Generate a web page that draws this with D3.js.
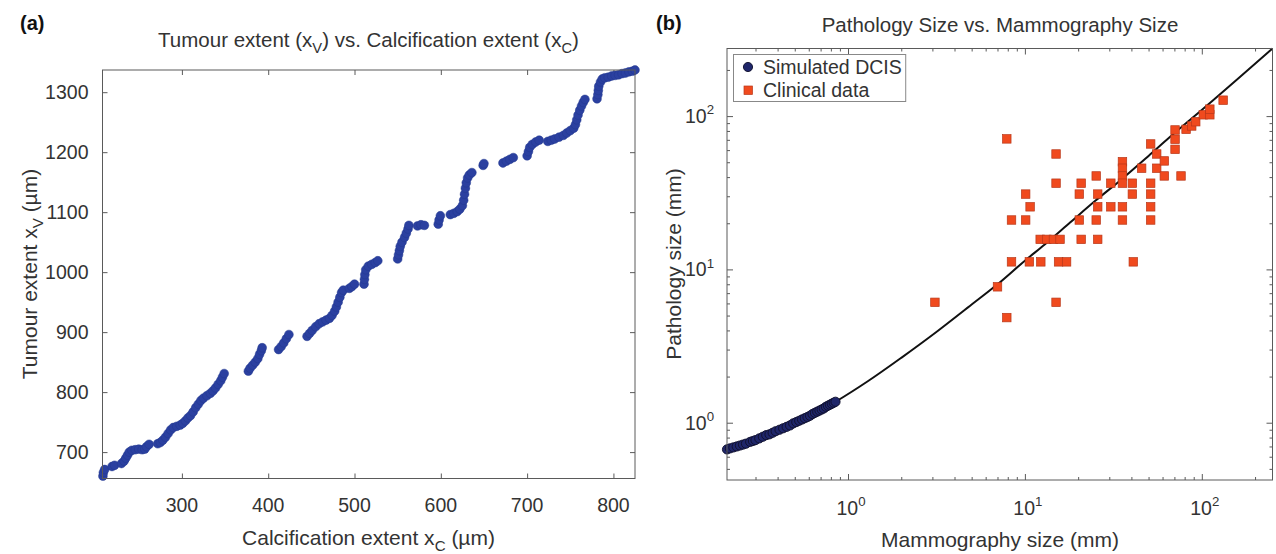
<!DOCTYPE html>
<html><head><meta charset="utf-8">
<script src="https://cdn.jsdelivr.net/npm/d3@7"></script>
<style>
body{margin:0;background:#fff}
svg{display:block}
text{font-family:"Liberation Sans",Arial,Helvetica,sans-serif}
</style>
</head><body>
<svg id="chart" width="1276" height="554"></svg>
<script>
// ---------- Panel (a) data ----------
const calcExtent = [208.5,209,210.5,219,222,230,233,235,237,239,242,246,250,254,257,259,262,
  272,275,278,281,284,287,290,294,298,301,304,307,310,313,316,319,322,325,329,333,336,339,342,345,347,349,
  377,379,382,385,388,390,392,393,
  412,415,418,421,424,
  445,448,451,455,459,463,467,471,474,477,479,481,483,485,487,
  494,497,500,
  511,511.5,512,513,516,520,524,527,
  550,551,552,553,555,558,560,562,563,
  573,577,581,
  597,598,599.5,
  611,615,619,622,625,626.5,627.5,628.5,629.5,631,633,636,
  649,650,
  672,676,680,684,
  700,701.5,703,706,710,714,
  724,728,732,737,742,746,750,754,756,757.5,759,761,763,765,767,
  781,782,782.5,783,785,787,790,794,798,802,806,810,814,818,822,825];
const tumourExtent = [660,666,671,676,678,681,685,690,695,700,703,704,705,704,705,709,713,
  714,716,720,725,731,737,741,743,745,748,752,757,761,767,774,780,786,790,794,798,802,807,813,819,825,831,
  835,840,845,850,856,863,869,874,
  871,876,882,889,896,
  893,898,903,909,914,917,920,923,928,935,942,950,958,966,970,
  973,976,980,
  980,988,996,1004,1010,1013,1016,1019,
  1022,1029,1036,1043,1050,1058,1065,1072,1078,
  1077,1079,1078,
  1080,1087,1094,
  1096,1098,1101,1105,1111,1120,1130,1140,1149,1157,1162,1166,
  1178,1181,
  1182,1185,1188,1191,
  1194,1201,1208,1213,1217,1220,
  1218,1220,1222,1225,1228,1232,1236,1240,1246,1254,1262,1270,1277,1283,1288,
  1289,1296,1303,1310,1317,1322,1324,1325,1327,1328,1329,1331,1332,1334,1335,1337];
const xTicksA = [300,400,500,600,700,800];
const yTicksA = [700,800,900,1000,1100,1200,1300];

// ---------- Panel (b) data ----------
const simMammo = [0.207,0.215,0.225,0.235,0.245,0.255,0.265,0.28,0.29,0.30,0.315,0.33,0.345,0.36,0.375,0.39,
  0.41,0.43,0.45,0.47,0.49,0.51,0.53,0.55,0.57,0.59,0.61,0.63,0.65,0.67,0.69,0.71,0.73,0.75,0.77,0.79,0.81,0.83,0.85];
const simPatho = [0.67,0.68,0.69,0.70,0.71,0.72,0.73,0.75,0.76,0.77,0.79,0.81,0.83,0.84,0.86,0.88,
  0.90,0.92,0.94,0.96,0.99,1.01,1.03,1.05,1.07,1.09,1.11,1.14,1.16,1.18,1.20,1.22,1.24,1.27,1.29,1.31,1.33,1.35,1.37];
const clinMammo = [7.9,15.0,15.0,10.1,10.7,8.4,10.1,12.2,13.3,14.5,15.8,8.4,10.6,12.3,15.5,17.2,7.0,3.1,15.0,7.9,
  20.8,20.3,25.3,25.8,25.8,20.3,25.3,20.8,25.8,30.6,30.6,35.6,35.6,35.6,35.6,40.5,40.5,35.6,35.6,41.0,
  45.7,51.4,51.4,51.4,51.4,51.4,55.6,55.6,61.4,61.4,70.6,70.6,70.6,76.3,81.5,87.7,92.4,102,111,111,132];
const clinPatho = [71,56.6,36.5,31.0,25.6,21.0,21.0,15.7,15.7,15.7,15.7,11.2,11.2,11.2,11.2,11.2,7.7,6.1,6.1,4.85,
  36.5,31.0,40.7,31.0,25.6,21.0,21.0,15.7,15.7,36.5,25.6,50.4,45.7,40.7,36.5,36.5,31.0,25.6,21.0,11.2,
  45.7,65.8,36.5,31.0,25.6,21.0,56.6,45.7,51.0,40.7,81.2,70.6,60.7,40.7,82,86.2,91.9,102,102,111,127];
const fitMammo = [0.207,0.3,0.5,0.85,1.3,2,3.2,5,7,10,13,18,25,35,50,66,90,115,160,251];
const fitPatho = [0.67,0.77,0.99,1.37,1.87,2.65,3.95,5.9,8.0,11.4,14.6,20.2,28,38.5,55,73,99,126,175,276];
const majorTicksB = [1,10,100];
const majorExpB = ["0","1","2"];

const svg = d3.select("#chart");
const AX = "#5a5a5a", TXT = "#333";
const FT = 19.5, FL = 21, FTI = 20.5;

// ================= Panel (a) =================
const xA = d3.scaleLinear().domain([208,825]).range([102.5,635]);
const yA = d3.scaleLinear().domain([656,1337]).range([478.5,70]);
const gA = svg.append("g");

function styleAxis(g){
  g.select(".domain").remove();
  g.selectAll(".tick line").attr("stroke",AX).attr("stroke-width",1);
  g.selectAll(".tick text").remove();
}
gA.append("g").attr("transform",`translate(0,${yA.range()[0]})`)
  .call(d3.axisBottom(xA).tickValues(xTicksA).tickSize(-5)).call(styleAxis);
gA.append("g").attr("transform",`translate(0,${yA.range()[1]})`)
  .call(d3.axisTop(xA).tickValues(xTicksA).tickSize(-5)).call(styleAxis);
gA.append("g").attr("transform",`translate(${xA.range()[0]},0)`)
  .call(d3.axisLeft(yA).tickValues(yTicksA).tickSize(-5)).call(styleAxis);
gA.append("g").attr("transform",`translate(${xA.range()[1]},0)`)
  .call(d3.axisRight(yA).tickValues(yTicksA).tickSize(-5)).call(styleAxis);

gA.selectAll("text.xt").data(xTicksA).enter().append("text")
  .attr("x",d=>xA(d)).attr("y",512).attr("text-anchor","middle")
  .attr("font-size",FT).attr("fill",TXT).text(d=>d);
gA.selectAll("text.yt").data(yTicksA).enter().append("text")
  .attr("x",88.5).attr("y",d=>yA(d)+7).attr("text-anchor","end")
  .attr("font-size",FT).attr("fill",TXT).text(d=>d);

gA.append("g").selectAll("circle").data(calcExtent).enter().append("circle")
  .attr("cx",d=>xA(d)).attr("cy",(d,i)=>yA(tumourExtent[i])).attr("r",4.4)
  .attr("fill","#2b40a0").attr("stroke","#23388f").attr("stroke-width",0.5);

gA.append("rect").attr("x",xA.range()[0]).attr("y",yA.range()[1])
  .attr("width",xA.range()[1]-xA.range()[0]).attr("height",yA.range()[0]-yA.range()[1])
  .attr("fill","none").attr("stroke",AX).attr("stroke-width",1);

function subText(parent, x, y, parts, size, anchor, rotate){
  const t = parent.append("text").attr("font-size",size).attr("fill",TXT)
    .attr("text-anchor",anchor||"middle");
  if(rotate){ t.attr("transform",`translate(${x},${y}) rotate(-90)`); }
  else { t.attr("x",x).attr("y",y); }
  parts.forEach(p=>{
    const s = t.append("tspan").text(p.t);
    if(p.sub){ s.attr("font-size",size*0.72).attr("dy",size*0.28); }
    if(p.back){ s.attr("dy",-size*0.28); }
    if(p.sup){ s.attr("font-size",size*0.68).attr("dy",-size*0.45); }
  });
  return t;
}
subText(gA, 368.5, 47, [{t:"Tumour extent (x"},{t:"V",sub:1},{t:") vs. Calcification extent (x",back:1},{t:"C",sub:1},{t:")",back:1}], FTI);
subText(gA, 368.5, 545, [{t:"Calcification extent x"},{t:"C",sub:1},{t:" (µm)",back:1}], FL);
subText(gA, 37, 274, [{t:"Tumour extent x"},{t:"V",sub:1},{t:" (µm)",back:1}], FL, "middle", true);
svg.append("text").attr("x",20).attr("y",30).attr("font-size",20).attr("font-weight","bold").attr("fill","#111").text("(a)");

// ================= Panel (b) =================
const xB = d3.scaleLog().domain([0.207,251]).range([727,1272.5]);
const yB = d3.scaleLog().domain([0.423,276]).range([480,48.5]);
const gB = svg.append("g");
const xMinorB = xB.ticks().filter(v=>!majorTicksB.includes(v));
const yMinorB = yB.ticks().filter(v=>!majorTicksB.includes(v));

[[xMinorB,3],[majorTicksB,6]].forEach(([vals,len])=>{
  gB.append("g").attr("transform",`translate(0,${yB.range()[0]})`)
    .call(d3.axisBottom(xB).tickValues(vals).tickSize(-len)).call(styleAxis);
  gB.append("g").attr("transform",`translate(0,${yB.range()[1]})`)
    .call(d3.axisTop(xB).tickValues(vals).tickSize(-len)).call(styleAxis);
});
[[yMinorB,3],[majorTicksB,6]].forEach(([vals,len])=>{
  gB.append("g").attr("transform",`translate(${xB.range()[0]},0)`)
    .call(d3.axisLeft(yB).tickValues(vals).tickSize(-len)).call(styleAxis);
  gB.append("g").attr("transform",`translate(${xB.range()[1]},0)`)
    .call(d3.axisRight(yB).tickValues(vals).tickSize(-len)).call(styleAxis);
});

majorTicksB.forEach((v,i)=>{
  subText(gB, xB(v)+3, 515, [{t:"10"},{t:majorExpB[i],sup:1}], FT);
  subText(gB, 714, yB(v)+7, [{t:"10"},{t:majorExpB[i],sup:1}], FT, "end");
});

// fit line
const lineB = d3.line().x((d,i)=>xB(fitMammo[i])).y((d,i)=>yB(fitPatho[i])).curve(d3.curveMonotoneX);
gB.append("path").datum(fitMammo).attr("d",lineB).attr("fill","none").attr("stroke","#111").attr("stroke-width",2);

// simulated points
gB.append("g").selectAll("circle").data(simMammo).enter().append("circle")
  .attr("cx",d=>xB(d)).attr("cy",(d,i)=>yB(simPatho[i])).attr("r",4.6)
  .attr("fill","#1f266a").attr("stroke","#0e0e2a").attr("stroke-width",0.9);

// clinical squares
const sq = 8.5;
gB.append("g").selectAll("rect").data(clinMammo).enter().append("rect")
  .attr("x",d=>xB(d)-sq/2).attr("y",(d,i)=>yB(clinPatho[i])-sq/2).attr("width",sq).attr("height",sq)
  .attr("fill","#f04a1e").attr("stroke","#b8381a").attr("stroke-width",0.7);

gB.append("rect").attr("x",xB.range()[0]).attr("y",yB.range()[1])
  .attr("width",xB.range()[1]-xB.range()[0]).attr("height",yB.range()[0]-yB.range()[1])
  .attr("fill","none").attr("stroke",AX).attr("stroke-width",1);

// legend
const leg = gB.append("g");
const legRect = leg.append("rect").attr("x",733.5).attr("y",54.5).attr("height",47)
  .attr("fill","#fff").attr("stroke","#888").attr("stroke-width",1);
leg.append("circle").attr("cx",748).attr("cy",67).attr("r",4.6).attr("fill","#1f266a").attr("stroke","#0e0e2a").attr("stroke-width",0.9);
leg.append("rect").attr("x",744).attr("y",86).attr("width",sq).attr("height",sq).attr("fill","#f04a1e").attr("stroke","#b8381a").attr("stroke-width",0.7);
const lt1 = leg.append("text").attr("x",763).attr("y",74).attr("font-size",19.5).attr("fill",TXT).text("Simulated DCIS");
leg.append("text").attr("x",763).attr("y",97).attr("font-size",19.5).attr("fill",TXT).text("Clinical data");
legRect.attr("width", lt1.node().getComputedTextLength()+763-733.5+4);

subText(gB, 1000, 32, [{t:"Pathology Size vs. Mammography Size"}], FTI);
subText(gB, 1000, 547, [{t:"Mammography size (mm)"}], FL);
subText(gB, 681, 264, [{t:"Pathology size (mm)"}], FL, "middle", true);
svg.append("text").attr("x",656).attr("y",30).attr("font-size",20).attr("font-weight","bold").attr("fill","#111").text("(b)");
</script>
</body></html>
